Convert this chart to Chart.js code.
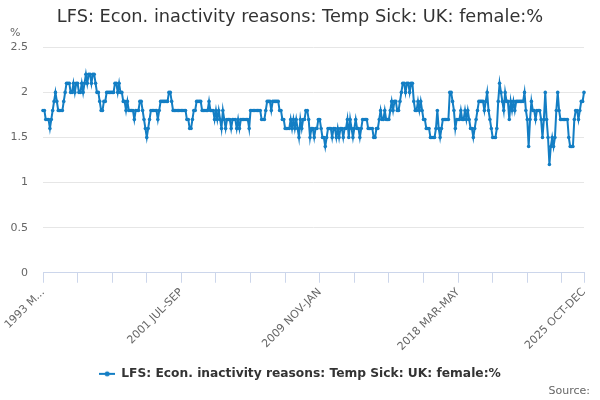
<!DOCTYPE html>
<html>
<head>
<meta charset="utf-8">
<script src="https://cdn.jsdelivr.net/npm/chart.js@4.4.1/dist/chart.umd.min.js"></script>
<style>
  html, body { margin: 0; padding: 0; background: #ffffff; }
  #wrap { width: 600px; height: 400px; position: relative; }
</style>
</head>
<body>
<div id="wrap"><canvas id="c" width="600" height="400"></canvas></div>
<script>
// ---- Data ----
const chartTitle = "LFS: Econ. inactivity reasons: Temp Sick: UK: female:%";
const seriesName = "LFS: Econ. inactivity reasons: Temp Sick: UK: female:%";
const unitLabel = "%";
const sourceLabel = "Source:";
const monthNames = ["JAN","FEB","MAR","APR","MAY","JUN","JUL","AUG","SEP","OCT","NOV","DEC"];
const startYear = 1993;
const startMonthIndex = 2; // MAR-MAY
const pointCount = 392;    // 1993 MAR-MAY .. 2025 OCT-DEC
const yTicks = [0, 0.5, 1, 1.5, 2, 2.5];

// rolling-quarter labels (categories)
const categories = [];
for (let i = 0; i < pointCount; i++) {
  const m = startMonthIndex + i;
  const y = startYear + Math.floor(m / 12);
  categories.push(y + " " + monthNames[m % 12] + "-" + monthNames[(m + 2) % 12]);
}

// values (percent)
const values = [
  1.8,1.8,1.7,1.7,1.7,1.6,1.7,1.8,1.9,2.0,
  1.9,1.8,1.8,1.8,1.8,1.9,2.0,2.1,2.1,2.1,
  2.0,2.0,2.1,2.0,2.1,2.1,2.0,2.0,2.1,2.0,
  2.1,2.2,2.1,2.2,2.2,2.1,2.2,2.2,2.1,2.0,
  2.0,1.9,1.8,1.8,1.9,1.9,2.0,2.0,2.0,2.0,
  2.0,2.0,2.1,2.1,2.0,2.1,2.0,2.0,1.9,1.9,
  1.8,1.9,1.8,1.8,1.8,1.8,1.7,1.8,1.8,1.8,
  1.9,1.9,1.8,1.7,1.6,1.5,1.6,1.7,1.8,1.8,
  1.8,1.8,1.8,1.7,1.8,1.9,1.9,1.9,1.9,1.9,
  1.9,2.0,2.0,1.9,1.8,1.8,1.8,1.8,1.8,1.8,
  1.8,1.8,1.8,1.8,1.7,1.7,1.6,1.6,1.7,1.8,
  1.8,1.9,1.9,1.9,1.9,1.8,1.8,1.8,1.8,1.8,
  1.9,1.8,1.8,1.8,1.7,1.8,1.7,1.8,1.7,1.6,
  1.8,1.7,1.6,1.7,1.7,1.7,1.6,1.7,1.7,1.7,
  1.6,1.7,1.6,1.7,1.7,1.7,1.7,1.7,1.7,1.6,
  1.8,1.8,1.8,1.8,1.8,1.8,1.8,1.8,1.7,1.7,
  1.7,1.8,1.9,1.9,1.9,1.8,1.9,1.9,1.9,1.9,
  1.9,1.8,1.8,1.7,1.7,1.6,1.6,1.6,1.6,1.7,
  1.6,1.7,1.6,1.7,1.6,1.5,1.7,1.6,1.7,1.7,
  1.8,1.8,1.7,1.5,1.6,1.6,1.5,1.6,1.6,1.7,
  1.7,1.6,1.5,1.5,1.4,1.5,1.6,1.6,1.6,1.5,
  1.6,1.6,1.5,1.6,1.5,1.6,1.6,1.5,1.6,1.6,
  1.7,1.5,1.7,1.6,1.5,1.6,1.7,1.6,1.6,1.5,
  1.6,1.7,1.7,1.7,1.7,1.6,1.6,1.6,1.6,1.5,
  1.5,1.6,1.6,1.7,1.8,1.7,1.7,1.8,1.7,1.7,
  1.7,1.8,1.9,1.8,1.9,1.9,1.8,1.8,1.9,2.0,
  2.1,2.1,2.0,2.1,2.1,2.0,2.1,2.1,1.9,1.8,
  1.8,1.9,1.8,1.9,1.8,1.7,1.7,1.6,1.6,1.6,
  1.5,1.5,1.5,1.5,1.6,1.8,1.6,1.5,1.6,1.7,
  1.7,1.7,1.7,1.7,2.0,2.0,1.9,1.8,1.6,1.7,
  1.7,1.7,1.8,1.7,1.7,1.8,1.7,1.8,1.7,1.6,
  1.6,1.5,1.6,1.7,1.8,1.9,1.9,1.9,1.9,1.8,
  1.9,2.0,1.8,1.7,1.6,1.5,1.5,1.5,1.6,1.9,
  2.1,2.0,1.9,1.8,2.0,1.9,1.9,1.7,1.9,1.8,
  1.9,1.8,1.9,1.9,1.9,1.9,1.9,1.9,2.0,1.8,
  1.7,1.4,1.7,1.9,1.8,1.8,1.7,1.8,1.8,1.8,
  1.7,1.5,1.7,2.0,1.7,1.5,1.2,1.4,1.5,1.4,
  1.5,1.8,2.0,1.8,1.7,1.7,1.7,1.7,1.7,1.7,
  1.5,1.4,1.4,1.4,1.7,1.8,1.8,1.7,1.8,1.9,
  1.9,2.0
];

// ---- Style ----
const lineColor = "#137ec4";
const fontFamily = "'DejaVu Sans', sans-serif";

// legend symbol: short line with a dot
const legendSymbol = document.createElement("canvas");
legendSymbol.width = 16; legendSymbol.height = 10;
(function () {
  const g = legendSymbol.getContext("2d");
  g.strokeStyle = lineColor; g.lineWidth = 2;
  g.beginPath(); g.moveTo(0, 5); g.lineTo(16, 5); g.stroke();
  g.fillStyle = lineColor;
  g.beginPath(); g.arc(8, 5, 2.5, 0, Math.PI * 2); g.fill();
})();

const lastIdx = pointCount - 1;

const extrasPlugin = {
  id: "extras",
  afterDraw(chart) {
    const ctx = chart.ctx;
    const area = chart.chartArea;
    ctx.save();
    ctx.font = "11px " + fontFamily;
    ctx.fillStyle = "#666666";
    ctx.textAlign = "left";
    ctx.textBaseline = "middle";
    ctx.fillText(unitLabel, 10, area.top - 14);
    ctx.textAlign = "right";
    ctx.fillText(sourceLabel, 590, 391);
    ctx.restore();
  }
};

new Chart(document.getElementById("c"), {
  type: "line",
  data: {
    labels: categories,
    datasets: [{
      label: seriesName,
      data: values,
      borderColor: lineColor,
      backgroundColor: lineColor,
      pointBackgroundColor: lineColor,
      pointBorderColor: lineColor,
      borderWidth: 2,
      pointRadius: 1.8,
      pointBorderWidth: 0,
      tension: 0,
      fill: false
    }]
  },
  options: {
    responsive: false,
    animation: false,
    devicePixelRatio: 1,
    layout: { padding: { left: 0, right: 0, top: 0, bottom: 10 } },
    plugins: {
      title: {
        display: true,
        text: chartTitle,
        color: "#333333",
        font: { family: fontFamily, size: 17.75, weight: "normal" },
        padding: { top: 7, bottom: 19 }
      },
      legend: {
        display: true,
        position: "bottom",
        labels: {
          color: "#333333",
          font: { family: fontFamily, size: 12.25, weight: "bold" },
          usePointStyle: true,
          pointStyleWidth: 16,
          padding: 6,
          generateLabels(chart) {
            return [{
              text: seriesName,
              fillStyle: lineColor,
              strokeStyle: lineColor,
              pointStyle: legendSymbol,
              lineWidth: 0,
              hidden: false,
              datasetIndex: 0,
              fontColor: "#333333"
            }];
          }
        }
      },
      tooltip: { enabled: false }
    },
    scales: {
      x: {
        type: "category",
        offset: false,
        afterFit(scale) { scale.height = 89; scale.paddingRight = 16; },
        grid: {
          display: true,
          drawOnChartArea: false,
          drawTicks: true,
          tickLength: 10,
          color: (ctx) => (ctx.index % 25 === 0 || ctx.index === lastIdx) ? "#ccd6eb" : "rgba(0,0,0,0)"
        },
        border: { display: true, color: "#ccd6eb", width: 1 },
        ticks: {
          autoSkip: false,
          maxRotation: 45,
          minRotation: 45,
          padding: 3,
          color: "#666666",
          font: { family: fontFamily, size: 11 },
          callback(value, index) {
            if (index === 0) return categories[0].slice(0, 6) + "...";
            if (index % 100 === 0 || index === lastIdx) return categories[index];
            return "";
          }
        }
      },
      y: {
        min: 0,
        max: 2.5,
        afterFit(scale) { scale.width = 43; },
        afterBuildTicks(scale) { scale.ticks = yTicks.map(v => ({ value: v })); },
        grid: { color: "#e6e6e6", drawTicks: false, lineWidth: 1 },
        border: { display: false },
        ticks: {
          padding: 15,
          color: "#666666",
          font: { family: fontFamily, size: 11 },
          callback(value) { return String(value); }
        }
      }
    }
  },
  plugins: [extrasPlugin]
});
</script>
</body>
</html>
